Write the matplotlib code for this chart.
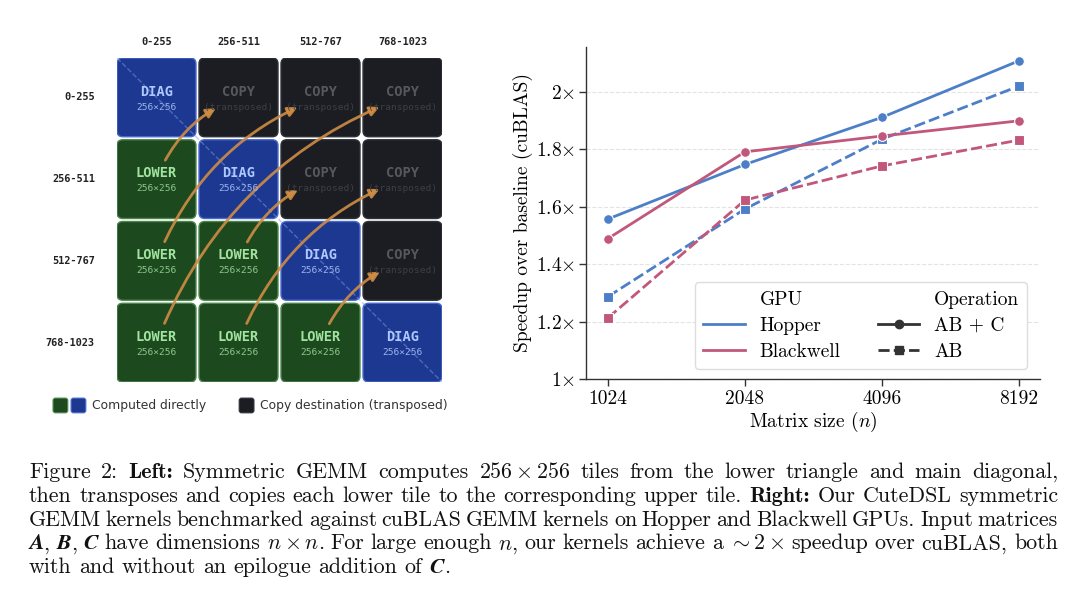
import re
import numpy as np
import matplotlib
matplotlib.use('Agg')
import matplotlib.pyplot as plt
from matplotlib.patches import FancyBboxPatch
from matplotlib.lines import Line2D

# -------------------------------------------------------------------------
# data
# -------------------------------------------------------------------------
SIZES = [1024, 2048, 4096, 8192]
HOPPER_ABC = [1.557, 1.747, 1.911, 2.108]
BLACKWELL_ABC = [1.489, 1.791, 1.846, 1.899]
HOPPER_AB = [1.287, 1.592, 1.835, 2.020]
BLACKWELL_AB = [1.213, 1.623, 1.742, 1.832]
YTICKS = [1.0, 1.2, 1.4, 1.6, 1.8, 2.0]
YTICK_LABELS = [r'1$\times$', r'1.2$\times$', r'1.4$\times$', r'1.6$\times$',
                r'1.8$\times$', r'2$\times$']

RANGES = ['0-255', '256-511', '512-767', '768-1023']
N_TILES = 4

# **x** = bold, ##x## = bold italic
CAPTION = [
    r"Figure 2: **Left:** Symmetric GEMM computes $256\times256$ tiles from the lower triangle and main diagonal,",
    r"then transposes and copies each lower tile to the corresponding upper tile. **Right:** Our CuteDSL symmetric",
    r"GEMM kernels benchmarked against cuBLAS GEMM kernels on Hopper and Blackwell GPUs. Input matrices",
    r"##A##, ##B##, ##C## have dimensions $n\times n$. For large enough $n$, our kernels achieve a $\sim2\times$ speedup over cuBLAS, both",
    r"with and without an epilogue addition of ##C##.",
]

HOPPER_COLOR = '#4C7FC7'
BLACKWELL_COLOR = '#C2577C'

TILE_STYLE = {
    'diag':  {'face': '#1C3891', 'edge': '#4A69CF', 'title': '#AFC8FF', 'sub': '#9DB5EE'},
    'lower': {'face': '#1D491E', 'edge': '#4C864D', 'title': '#A2E3A0', 'sub': '#8CC98C'},
    'copy':  {'face': '#1B1D22', 'edge': '#2E3138', 'title': '#55585E', 'sub': '#3C3F45'},
}
ARROW_COLOR = '#CF8C45'

plt.rcParams['font.family'] = 'cmr10'
plt.rcParams['mathtext.fontset'] = 'cm'
plt.rcParams['axes.formatter.use_mathtext'] = True
plt.rcParams['axes.unicode_minus'] = False

W, H = 1080, 601
fig = plt.figure(figsize=(W / 100, H / 100), dpi=100)

# -------------------------------------------------------------------------
# left: tile diagram
# -------------------------------------------------------------------------
PITCH = 1.0
TILE = 0.963
MONO = 'DejaVu Sans Mono'

axl = fig.add_axes([117 / W, 1 - 382 / H, 325 / W, 324 / H])
span = (N_TILES - 1) * PITCH + TILE
axl.set_xlim(0, span)
axl.set_ylim(span, 0)
axl.axis('off')

for r in range(N_TILES):
    for c in range(N_TILES):
        kind = 'diag' if r == c else ('lower' if r > c else 'copy')
        st = TILE_STYLE[kind]
        x0, y0 = c * PITCH, r * PITCH
        box = FancyBboxPatch((x0 + 0.03, y0 + 0.03), TILE - 0.06, TILE - 0.06,
                             boxstyle='round,pad=0.03,rounding_size=0.07',
                             facecolor=st['face'], edgecolor=st['edge'], lw=1.0, zorder=1)
        axl.add_patch(box)
        title = {'diag': 'DIAG', 'lower': 'LOWER', 'copy': 'COPY'}[kind]
        sub = '(transposed)' if kind == 'copy' else '256×256'
        axl.text(x0 + TILE / 2, y0 + 0.41, title, ha='center', va='center',
                 family=MONO, weight='bold', fontsize=9.8, color=st['title'], zorder=4)
        axl.text(x0 + TILE / 2, y0 + 0.60, sub, ha='center', va='center',
                 family=MONO, fontsize=6.8, color=st['sub'], zorder=4)

# diagonal dashed line
axl.plot([0, span], [0, span], ls='--', color='#7F9BE0', lw=1.0, alpha=0.5, zorder=2)

# range labels
for i, lab in enumerate(RANGES):
    axl.text(i * PITCH + TILE / 2, -0.2, lab, ha='center', va='center', family=MONO,
             weight='bold', fontsize=7.4, color='#222222', clip_on=False)
    axl.text(-0.27, i * PITCH + TILE / 2, lab, ha='right', va='center', family=MONO,
             weight='bold', fontsize=7.4, color='#222222', clip_on=False)

# transpose arrows lower (r, c) -> upper (c, r)
for r in range(N_TILES):
    for c in range(r):
        start = (c * PITCH + TILE / 2, r * PITCH + TILE / 2)
        end = (r * PITCH + TILE / 2, c * PITCH + TILE / 2)
        axl.annotate('', xy=end, xytext=start,
                     arrowprops=dict(arrowstyle='-|>', color=ARROW_COLOR, lw=2.0, alpha=0.9,
                                     mutation_scale=14, shrinkA=15, shrinkB=18,
                                     connectionstyle='arc3,rad=-0.22'),
                     zorder=3)

# legend for the diagram
for x0, face, edge in [(-0.78, TILE_STYLE['lower']['face'], TILE_STYLE['lower']['edge']),
                       (-0.56, TILE_STYLE['diag']['face'], TILE_STYLE['diag']['edge']),
                       (1.49, TILE_STYLE['copy']['face'], TILE_STYLE['copy']['edge'])]:
    sq = FancyBboxPatch((x0, 4.16), 0.18, 0.18, boxstyle='round,pad=0.0,rounding_size=0.03',
                        facecolor=face, edgecolor=edge, lw=0.8, clip_on=False)
    axl.add_patch(sq)
axl.text(-0.30, 4.25, 'Computed directly', ha='left', va='center', family='DejaVu Sans',
         fontsize=8.9, color='#333333', clip_on=False)
axl.text(1.74, 4.25, 'Copy destination (transposed)', ha='left', va='center',
         family='DejaVu Sans', fontsize=8.9, color='#333333', clip_on=False)

# -------------------------------------------------------------------------
# right: speedup chart
# -------------------------------------------------------------------------
axr = fig.add_axes([586 / W, 1 - 379 / H, 454 / W, 332 / H])
axr.set_xscale('log', base=2)

series = [
    (HOPPER_ABC, HOPPER_COLOR, '-', 'o'),
    (HOPPER_AB, HOPPER_COLOR, '--', 's'),
    (BLACKWELL_ABC, BLACKWELL_COLOR, '-', 'o'),
    (BLACKWELL_AB, BLACKWELL_COLOR, '--', 's'),
]
for vals, col, ls, mk in series:
    line, = axr.plot(SIZES, vals, color=col, ls=ls, marker=mk, lw=2.0, ms=7,
                     mec='white', mew=0.8)
    if ls == '--':
        line.set_dashes((4, 1.5))

axr.set_xticks(SIZES)
axr.set_xticklabels([str(s) for s in SIZES])
axr.minorticks_off()
axr.set_xlim(1024 / 2 ** (22 / 137), 8192 * 2 ** (21 / 137))
axr.set_ylim(1.0, 2.156)
axr.set_yticks(YTICKS)
axr.set_yticklabels(YTICK_LABELS)
axr.tick_params(labelsize=14, length=5, width=1, color='#333333', direction='out', pad=3)
axr.grid(axis='y', ls='--', color='#E3E3E3', lw=0.8)
axr.set_axisbelow(True)
for side in ['top', 'right']:
    axr.spines[side].set_visible(False)
for side in ['left', 'bottom']:
    axr.spines[side].set_color('#333333')
    axr.spines[side].set_linewidth(1.0)
axr.set_xlabel(r'Matrix size ($n$)', fontsize=14, labelpad=1)
axr.set_ylabel('Speedup over baseline (cuBLAS)', fontsize=14, labelpad=2)

blank = Line2D([], [], color='none')
handles = [blank,
           Line2D([], [], color=HOPPER_COLOR, lw=2),
           Line2D([], [], color=BLACKWELL_COLOR, lw=2),
           blank,
           Line2D([], [], color='#333333', lw=2, marker='o', ms=6),
           Line2D([], [], color='#333333', lw=2, ls=(0, (4, 1.5)), marker='s', ms=6)]
labels = ['GPU', 'Hopper', 'Blackwell', 'Operation', 'AB + C', 'AB']
leg = axr.legend(handles, labels, ncol=2, loc='lower right', fontsize=14,
                 bbox_to_anchor=(0.972, 0.03), borderaxespad=0,
                 handlelength=2.15, handletextpad=0.75,
                 columnspacing=1.9, labelspacing=0.42, borderpad=0.42,
                 frameon=True, fancybox=True, edgecolor='#DDDDDD', framealpha=1.0)

# -------------------------------------------------------------------------
# caption, justified word by word
# -------------------------------------------------------------------------
CAP_SIZE = 15.8
CAP_LEFT, CAP_RIGHT = 29, 1058
STYLES = {
    'r': dict(family='cmr10'),
    'b': dict(family='cmb10'),
    'bi': dict(family='STIXGeneral', weight='bold', style='italic'),
}
renderer = fig.canvas.get_renderer()


def parse_word(word):
    pieces = []
    for part in re.split(r'(\*\*[^*]+\*\*|##[^#]+##)', word):
        if not part:
            continue
        if part.startswith('**'):
            pieces.append((part[2:-2], 'b'))
        elif part.startswith('##'):
            pieces.append((part[2:-2], 'bi'))
        else:
            pieces.append((part, 'r'))
    return pieces


def text_width(s, style):
    t = fig.text(0, 0, s, fontsize=CAP_SIZE, **STYLES[style])
    w = t.get_window_extent(renderer).width
    t.remove()
    return w


space_w = text_width('a a', 'r') - text_width('aa', 'r')
for i, line in enumerate(CAPTION):
    words = [parse_word(w) for w in re.findall(r'(?:\$[^$]*\$|[^\s$])+', line)]
    widths = [[text_width(s, st) for s, st in w] for w in words]
    total = sum(sum(ws) for ws in widths)
    if i < len(CAPTION) - 1:
        gap = (CAP_RIGHT - CAP_LEFT - total) / (len(words) - 1)
    else:
        gap = space_w
    y = 1 - (478 + 23.75 * i) / H
    x = CAP_LEFT
    for w, ws in zip(words, widths):
        for (s, st), pw in zip(w, ws):
            fig.text(x / W, y, s, ha='left', va='baseline', fontsize=CAP_SIZE,
                     color='#111111', **STYLES[st])
            x += pw
        x += gap

plt.savefig('out.png', dpi=100)
plt.close()
